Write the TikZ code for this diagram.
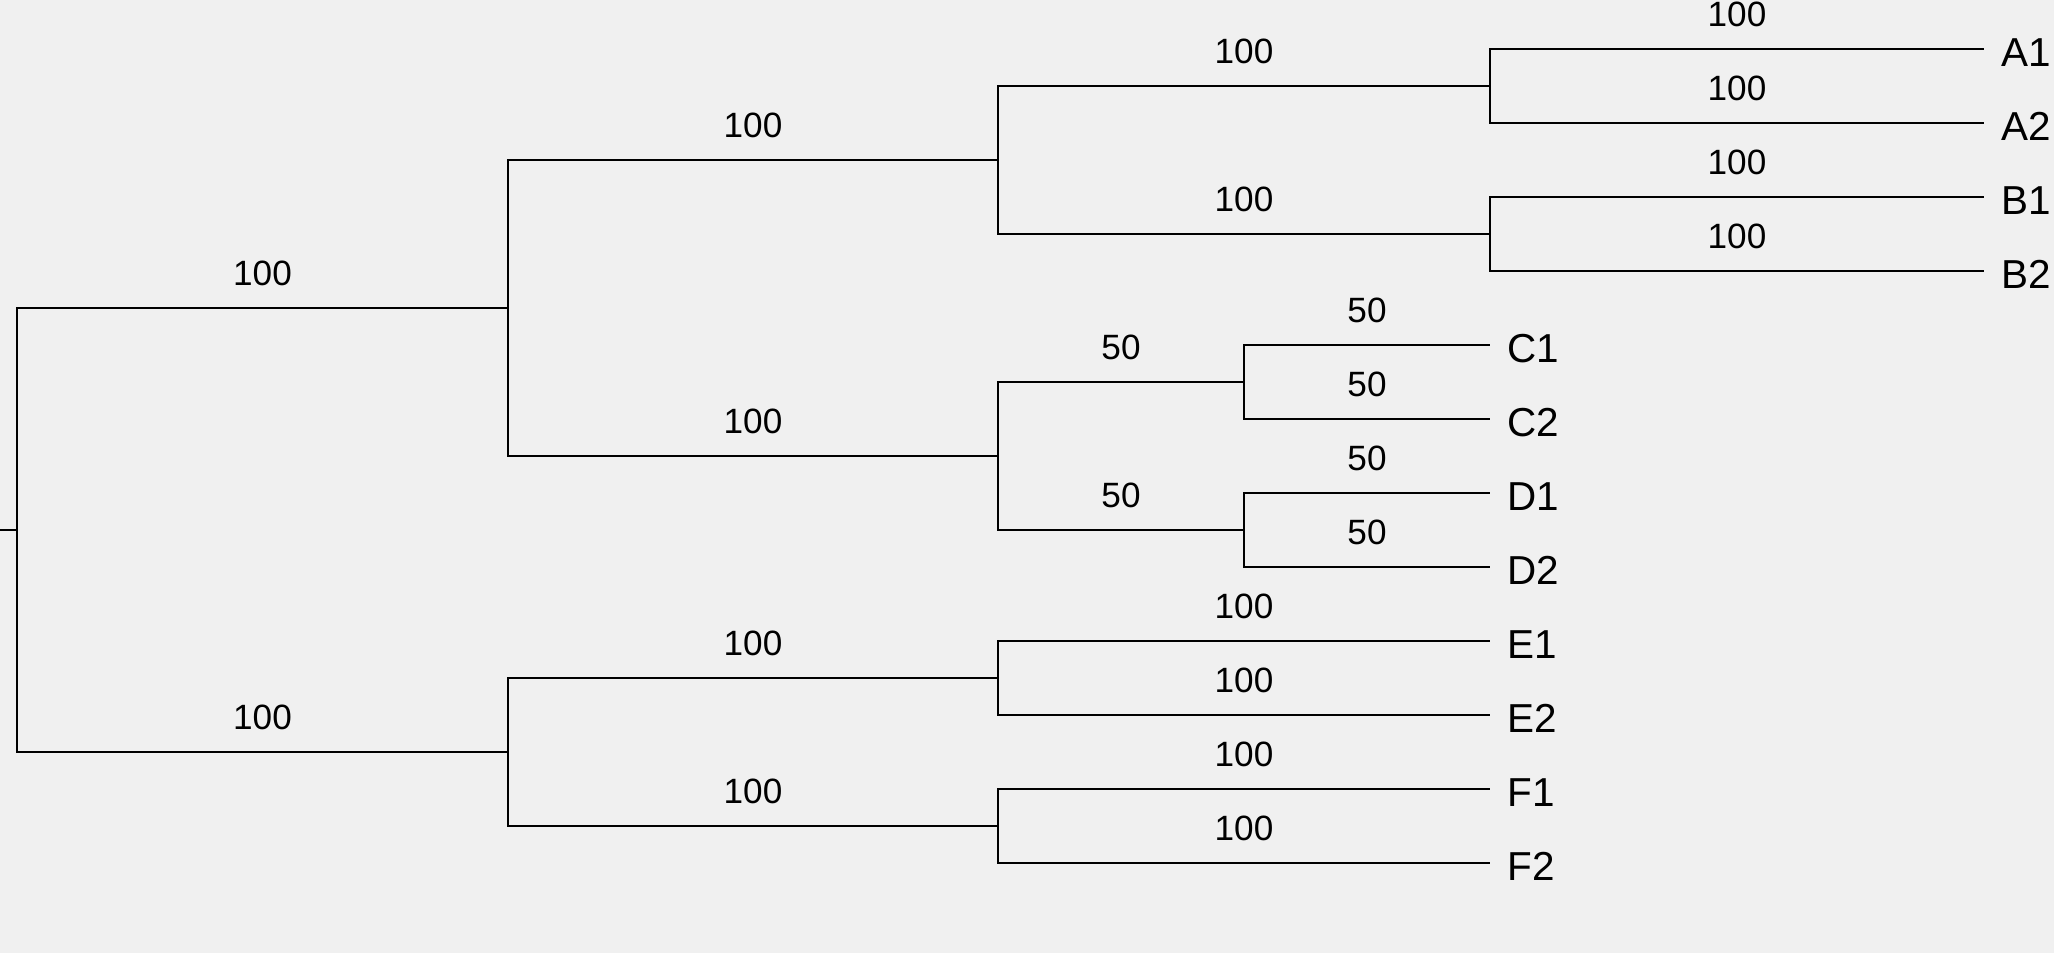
\documentclass[tikz,border=0pt]{standalone}
\usepackage{fontspec}
\setmainfont{Liberation Sans}
\definecolor{panel}{RGB}{240,240,240}
\tikzset{
  branch/.style={line width=0.6pt},
  lbl/.style={pos=0.75, anchor=base, inner sep=0pt, yshift=0.23cm, font=\fontsize{10pt}{12pt}\selectfont},
  leaf/.style={anchor=west, inner xsep=0.17cm, inner ysep=0pt, text height=0.35cm, text depth=0pt, font=\fontsize{11.5pt}{13pt}\selectfont},
}

\begin{document}
\begin{tikzpicture}[x=0.01cm, y=-0.01cm]
            % Background
            \fill[panel] (0,0) rectangle (2054,953);
            \useasboundingbox (0,0) rectangle (2054,953);

            % Inner nodes
            \coordinate (stub) at (0,530);
            \coordinate (root) at (17,530);
            \coordinate (abcd) at (508,308);
            \coordinate (ef) at (508,752);
            \coordinate (ab) at (998,160);
            \coordinate (cd) at (998,456);
            \coordinate (e) at (998,678);
            \coordinate (f) at (998,826);
            \coordinate (a) at (1490,86);
            \coordinate (b) at (1490,234);
            \coordinate (c) at (1244,382);
            \coordinate (d) at (1244,530);

            % Leaves
            \node[leaf] (A1) at (1984,49) {A1};
            \node[leaf] (A2) at (1984,123) {A2};
            \node[leaf] (B1) at (1984,197) {B1};
            \node[leaf] (B2) at (1984,271) {B2};
            \node[leaf] (C1) at (1490,345) {C1};
            \node[leaf] (C2) at (1490,419) {C2};
            \node[leaf] (D1) at (1490,493) {D1};
            \node[leaf] (D2) at (1490,567) {D2};
            \node[leaf] (E1) at (1490,641) {E1};
            \node[leaf] (E2) at (1490,715) {E2};
            \node[leaf] (F1) at (1490,789) {F1};
            \node[leaf] (F2) at (1490,863) {F2};

            % Edges
            \draw[branch] (stub) -- (root);
            \draw[branch] (root) |- node[lbl]{100} (abcd);
            \draw[branch] (root) |- node[lbl]{100} (ef);
            \draw[branch] (abcd) |- node[lbl]{100} (ab);
            \draw[branch] (abcd) |- node[lbl]{100} (cd);
            \draw[branch] (ef) |- node[lbl]{100} (e);
            \draw[branch] (ef) |- node[lbl]{100} (f);
            \draw[branch] (ab) |- node[lbl]{100} (a);
            \draw[branch] (ab) |- node[lbl]{100} (b);
            \draw[branch] (cd) |- node[lbl]{50} (c);
            \draw[branch] (cd) |- node[lbl]{50} (d);
            \draw[branch] (a) |- node[lbl]{100} (A1.west);
            \draw[branch] (a) |- node[lbl]{100} (A2.west);
            \draw[branch] (b) |- node[lbl]{100} (B1.west);
            \draw[branch] (b) |- node[lbl]{100} (B2.west);
            \draw[branch] (c) |- node[lbl]{50} (C1.west);
            \draw[branch] (c) |- node[lbl]{50} (C2.west);
            \draw[branch] (d) |- node[lbl]{50} (D1.west);
            \draw[branch] (d) |- node[lbl]{50} (D2.west);
            \draw[branch] (e) |- node[lbl]{100} (E1.west);
            \draw[branch] (e) |- node[lbl]{100} (E2.west);
            \draw[branch] (f) |- node[lbl]{100} (F1.west);
            \draw[branch] (f) |- node[lbl]{100} (F2.west);
\end{tikzpicture}
\end{document}
